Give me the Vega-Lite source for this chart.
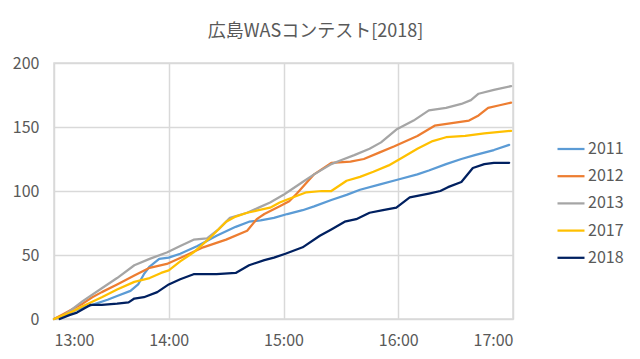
{
  "$schema": "https://vega.github.io/schema/vega-lite/v6.json",
  "width": 459,
  "height": 256,
  "autosize": "none",
  "padding": {"left": 54, "top": 63, "right": 127, "bottom": 40},
  "background": "white",
  "title": {"text": "広島WASコンテスト[2018]", "font": "Noto Sans CJK JP", "fontSize": 18, "fontWeight": "normal", "color": "#595959", "anchor": "middle", "dx": 32, "offset": 14},
  "config": {"view": {"stroke": "#D9D9D9", "strokeWidth": 1.5}},
  "datasets": {
    "s": [
      {"year":"2011","t":0,"v":0},{"year":"2011","t":5,"v":3},{"year":"2011","t":10,"v":6},{"year":"2011","t":15,"v":9},{"year":"2011","t":20,"v":11},{"year":"2011","t":28,"v":15},{"year":"2011","t":33,"v":18},{"year":"2011","t":40,"v":22},{"year":"2011","t":44,"v":27},{"year":"2011","t":47,"v":35},{"year":"2011","t":50,"v":41},{"year":"2011","t":55,"v":47},{"year":"2011","t":60,"v":48},{"year":"2011","t":66,"v":51},{"year":"2011","t":75,"v":57},{"year":"2011","t":85,"v":65},{"year":"2011","t":95,"v":72},{"year":"2011","t":102,"v":76},{"year":"2011","t":108,"v":77},{"year":"2011","t":115,"v":79},{"year":"2011","t":122,"v":82},{"year":"2011","t":130,"v":85},{"year":"2011","t":136,"v":88},{"year":"2011","t":145,"v":93},{"year":"2011","t":153,"v":97},{"year":"2011","t":160,"v":101},{"year":"2011","t":170,"v":105},{"year":"2011","t":180,"v":109},{"year":"2011","t":190,"v":113},{"year":"2011","t":196,"v":116},{"year":"2011","t":205,"v":121},{"year":"2011","t":213,"v":125},{"year":"2011","t":220,"v":128},{"year":"2011","t":230,"v":132},{"year":"2011","t":238,"v":136},
      {"year":"2012","t":0,"v":0},{"year":"2012","t":5,"v":4},{"year":"2012","t":10,"v":8},{"year":"2012","t":15,"v":12},{"year":"2012","t":20,"v":17},{"year":"2012","t":25,"v":21},{"year":"2012","t":33,"v":27},{"year":"2012","t":42,"v":34},{"year":"2012","t":50,"v":40},{"year":"2012","t":59,"v":43},{"year":"2012","t":68,"v":49},{"year":"2012","t":78,"v":56},{"year":"2012","t":90,"v":62},{"year":"2012","t":101,"v":69},{"year":"2012","t":106,"v":78},{"year":"2012","t":110,"v":82},{"year":"2012","t":118,"v":88},{"year":"2012","t":123,"v":92},{"year":"2012","t":127,"v":98},{"year":"2012","t":136,"v":113},{"year":"2012","t":145,"v":122},{"year":"2012","t":155,"v":123},{"year":"2012","t":162,"v":125},{"year":"2012","t":170,"v":130},{"year":"2012","t":178,"v":135},{"year":"2012","t":190,"v":143},{"year":"2012","t":199,"v":151},{"year":"2012","t":208,"v":153},{"year":"2012","t":217,"v":155},{"year":"2012","t":222,"v":159},{"year":"2012","t":227,"v":165},{"year":"2012","t":233,"v":167},{"year":"2012","t":239,"v":169},
      {"year":"2013","t":0,"v":0},{"year":"2013","t":3,"v":1},{"year":"2013","t":8,"v":6},{"year":"2013","t":15,"v":14},{"year":"2013","t":25,"v":24},{"year":"2013","t":33,"v":32},{"year":"2013","t":42,"v":42},{"year":"2013","t":50,"v":47},{"year":"2013","t":59,"v":52},{"year":"2013","t":66,"v":57},{"year":"2013","t":73,"v":62},{"year":"2013","t":80,"v":63},{"year":"2013","t":86,"v":70},{"year":"2013","t":92,"v":79},{"year":"2013","t":101,"v":83},{"year":"2013","t":107,"v":87},{"year":"2013","t":113,"v":91},{"year":"2013","t":120,"v":97},{"year":"2013","t":123,"v":100},{"year":"2013","t":130,"v":107},{"year":"2013","t":136,"v":113},{"year":"2013","t":145,"v":121},{"year":"2013","t":150,"v":124},{"year":"2013","t":157,"v":128},{"year":"2013","t":165,"v":133},{"year":"2013","t":171,"v":138},{"year":"2013","t":179,"v":148},{"year":"2013","t":188,"v":155},{"year":"2013","t":196,"v":163},{"year":"2013","t":205,"v":165},{"year":"2013","t":213,"v":168},{"year":"2013","t":218,"v":171},{"year":"2013","t":222,"v":176},{"year":"2013","t":230,"v":179},{"year":"2013","t":239,"v":182},
      {"year":"2017","t":0,"v":0},{"year":"2017","t":5,"v":3},{"year":"2017","t":10,"v":6},{"year":"2017","t":15,"v":10},{"year":"2017","t":25,"v":17},{"year":"2017","t":33,"v":23},{"year":"2017","t":42,"v":29},{"year":"2017","t":50,"v":32},{"year":"2017","t":56,"v":36},{"year":"2017","t":60,"v":38},{"year":"2017","t":66,"v":45},{"year":"2017","t":73,"v":52},{"year":"2017","t":82,"v":64},{"year":"2017","t":90,"v":76},{"year":"2017","t":95,"v":80},{"year":"2017","t":101,"v":83},{"year":"2017","t":107,"v":85},{"year":"2017","t":113,"v":87},{"year":"2017","t":118,"v":91},{"year":"2017","t":123,"v":94},{"year":"2017","t":132,"v":99},{"year":"2017","t":140,"v":100},{"year":"2017","t":145,"v":100},{"year":"2017","t":153,"v":108},{"year":"2017","t":160,"v":111},{"year":"2017","t":167,"v":115},{"year":"2017","t":175,"v":120},{"year":"2017","t":182,"v":126},{"year":"2017","t":190,"v":133},{"year":"2017","t":198,"v":139},{"year":"2017","t":205,"v":142},{"year":"2017","t":215,"v":143},{"year":"2017","t":225,"v":145},{"year":"2017","t":239,"v":147},
      {"year":"2018","t":3,"v":0},{"year":"2018","t":8,"v":3},{"year":"2018","t":12,"v":5},{"year":"2018","t":19,"v":11},{"year":"2018","t":25,"v":11},{"year":"2018","t":33,"v":12},{"year":"2018","t":39,"v":13},{"year":"2018","t":42,"v":16},{"year":"2018","t":47,"v":17},{"year":"2018","t":54,"v":21},{"year":"2018","t":60,"v":27},{"year":"2018","t":66,"v":31},{"year":"2018","t":73,"v":35},{"year":"2018","t":85,"v":35},{"year":"2018","t":95,"v":36},{"year":"2018","t":102,"v":42},{"year":"2018","t":110,"v":46},{"year":"2018","t":115,"v":48},{"year":"2018","t":121,"v":51},{"year":"2018","t":130,"v":56},{"year":"2018","t":139,"v":65},{"year":"2018","t":145,"v":70},{"year":"2018","t":152,"v":76},{"year":"2018","t":158,"v":78},{"year":"2018","t":165,"v":83},{"year":"2018","t":172,"v":85},{"year":"2018","t":179,"v":87},{"year":"2018","t":186,"v":95},{"year":"2018","t":196,"v":98},{"year":"2018","t":202,"v":100},{"year":"2018","t":206,"v":103},{"year":"2018","t":213,"v":107},{"year":"2018","t":219,"v":118},{"year":"2018","t":225,"v":121},{"year":"2018","t":230,"v":122},{"year":"2018","t":238,"v":122}
    ]
  },
  "data": {"name": "s"},
  "mark": {"type": "line", "strokeJoin": "round", "strokeCap": "round"},
  "encoding": {
    "x": {"field": "t", "type": "quantitative", "scale": {"domain": [0, 240], "nice": false, "zero": false},
      "axis": {"values": [0, 60, 120, 180, 240], "labelExpr": "(13 + datum.value / 60) + ':00'", "title": null, "grid": true, "gridColor": "#D9D9D9", "gridWidth": 1.5, "domain": false, "ticks": false, "labelFont": "Noto Sans CJK JP", "labelFontSize": 16, "labelColor": "#595959", "labelPadding": 13}},
    "y": {"field": "v", "type": "quantitative", "scale": {"domain": [0, 200], "nice": false},
      "axis": {"values": [0, 50, 100, 150, 200], "title": null, "grid": true, "gridColor": "#D9D9D9", "gridWidth": 1.5, "domain": false, "ticks": false, "labelFont": "Noto Sans CJK JP", "labelFontSize": 16, "labelColor": "#595959", "labelPadding": 15}},
    "color": {"field": "year", "type": "nominal", "title": null,
      "scale": {"domain": ["2011", "2012", "2013", "2017", "2018"], "range": ["#5B9BD5", "#ED7D31", "#A5A5A5", "#FFC000", "#002060"]},
      "legend": {"orient": "none", "legendX": 502, "legendY": 71, "symbolType": "stroke", "symbolSize": 729, "labelFont": "Noto Sans CJK JP", "labelFontSize": 16, "labelColor": "#595959", "labelOffset": 2, "rowPadding": 4.2}},
    "strokeWidth": {"field": "year", "type": "nominal", "title": null,
      "scale": {"domain": ["2011", "2012", "2013", "2017", "2018"], "range": [2.25, 2.25, 2.25, 2.25, 5]},
      "legend": {"orient": "none", "legendX": 502, "legendY": 71, "symbolType": "stroke", "symbolSize": 729, "labelFont": "Noto Sans CJK JP", "labelFontSize": 16, "labelColor": "#595959", "labelOffset": 2, "rowPadding": 4.2}}
  }
}
